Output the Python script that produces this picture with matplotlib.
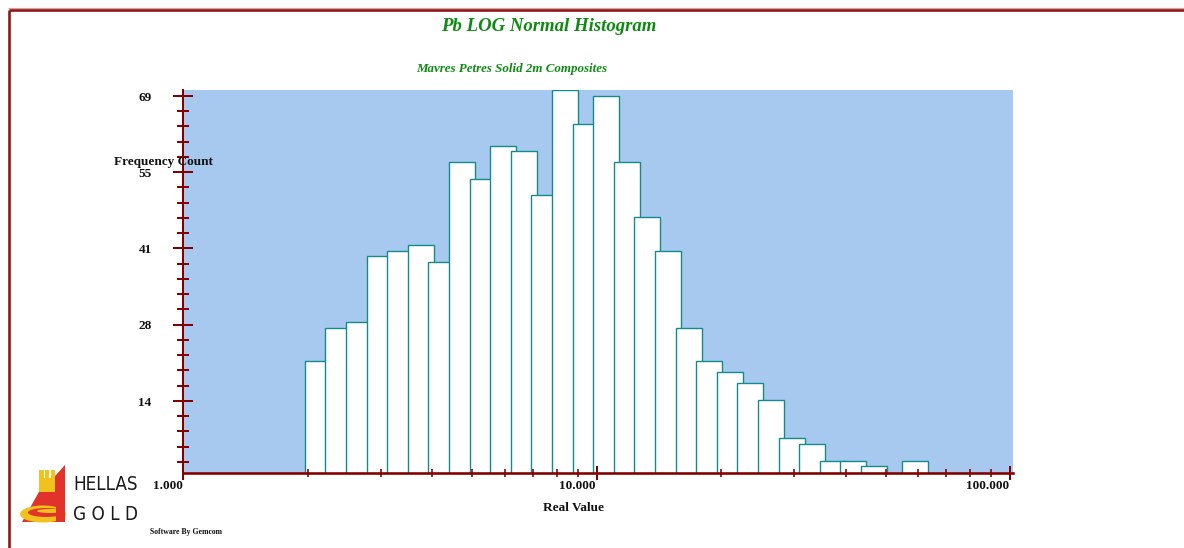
import matplotlib
matplotlib.use('Agg')
import matplotlib.pyplot as plt
import numpy as np
from matplotlib.patches import Polygon, Rectangle, Ellipse
from matplotlib.ticker import FixedLocator, NullFormatter

# ---------------- data ----------------
bin_lower = [1.966, 2.205, 2.473, 2.774, 3.111, 3.490, 3.914, 4.390, 4.924, 5.524,
             6.194, 6.949, 7.794, 8.743, 9.804, 10.998, 12.334, 13.836, 15.515, 17.405,
             19.521, 21.897, 24.556, 27.546, 30.895, 34.656, 38.868, 43.601, 48.901, 54.855]
counts = [21, 27, 28, 40, 41, 42, 39, 57, 54, 60,
          59, 51, 70, 64, 69, 57, 47, 41, 27, 21,
          19, 17, 14, 7, 6, 3, 3, 2, 0, 3]
y_tick_values = [13.8, 27.6, 41.4, 55.2, 69.0]
y_tick_labels = ['14', '28', '41', '55', '69']
x_tick_values = [1, 10, 100]
x_tick_labels = ['1.000', '10.000', '100.000']

title = 'Pb LOG Normal Histogram'
subtitle = 'Mavres Petres Solid 2m Composites'
ylabel = 'Frequency Count'
xlabel = 'Real Value'
footer = 'Software By Gemcom'

# ---------------- style ----------------
W, H = 1184, 548
PX = 0.72  # points per pixel at dpi 100
AXC = '#820000'
GREEN = '#0E8A12'
SERIF = ['Liberation Serif', 'DejaVu Serif']
bar_width_decades = 0.063

fig = plt.figure(figsize=(W / 100, H / 100), dpi=100)
fig.patch.set_facecolor('white')

def fx(x):
    return x / W

def fy(y):
    return 1 - y / H

ax_left, ax_right, ax_top, ax_bottom = 183.4, 1012.7, 90.0, 472.7
ax = fig.add_axes([fx(ax_left), fy(ax_bottom), (ax_right - ax_left) / W, (ax_bottom - ax_top) / H])
ax.set_facecolor('#A7C8EF')
ax.set_xscale('log')
ax.set_xlim(1, 101.5)
ax.set_ylim(0.8, 70.08)

lefts = np.array(bin_lower)
widths = lefts * (10 ** bar_width_decades - 1)
for l, w, c in zip(lefts, widths, counts):
    if c > 0:
        ax.bar(l, c, width=w, align='edge', facecolor='white', edgecolor='#138B8B',
               linewidth=1.0, zorder=1)

for s in ['top', 'right']:
    ax.spines[s].set_visible(False)
ax.spines['left'].set_color(AXC)
ax.spines['left'].set_linewidth(2 * PX)
ax.spines['bottom'].set_color(AXC)
ax.spines['bottom'].set_linewidth(2.6 * PX)

# x ticks
ax.xaxis.set_major_locator(FixedLocator(x_tick_values))
ax.xaxis.set_minor_locator(FixedLocator([m * d for d in (1, 10) for m in range(2, 10)]))
ax.xaxis.set_major_formatter(NullFormatter())
ax.xaxis.set_minor_formatter(NullFormatter())
ax.tick_params(axis='x', which='major', direction='inout', length=14 * PX, width=2 * PX, color=AXC)
ax.tick_params(axis='x', which='minor', direction='inout', length=7.5 * PX, width=1.6 * PX, color=AXC)

# y ticks
ax.yaxis.set_major_locator(FixedLocator(y_tick_values))
step = y_tick_values[0] / 5
minor_y = [step * k for k in range(1, 26) if k % 5 != 0]
ax.yaxis.set_minor_locator(FixedLocator(minor_y))
ax.yaxis.set_major_formatter(NullFormatter())
ax.yaxis.set_minor_formatter(NullFormatter())
ax.tick_params(axis='y', which='major', direction='inout', length=20 * PX, width=2 * PX, color=AXC)
ax.tick_params(axis='y', which='minor', direction='inout', length=12 * PX, width=2 * PX, color=AXC)

for v, lab in zip(y_tick_values, y_tick_labels):
    ax.annotate(lab, xy=(0, v), xycoords=('axes fraction', 'data'),
                xytext=(-31.7 * PX, -4.7 * PX), textcoords='offset points',
                ha='right', va='baseline', fontsize=9.5, fontweight='bold',
                family=SERIF, color='#111111', annotation_clip=False)
for v, lab in zip(x_tick_values, x_tick_labels):
    ax.annotate(lab, xy=(v, 0), xycoords=('data', 'axes fraction'),
                xytext=(-1.0 * PX, -16.6 * PX), textcoords='offset points',
                ha='right', va='baseline', fontsize=9.5, fontweight='bold',
                family=SERIF, color='#111111', annotation_clip=False)

# ---------------- overlay (pixel coords) ----------------
ov = fig.add_axes([0, 0, 1, 1], zorder=5)
ov.set_xlim(0, W)
ov.set_ylim(H, 0)
ov.axis('off')
ov.patch.set_visible(False)

# frame lines
ov.plot([8, W], [7.8, 7.8], color='#D8A0A0', lw=1.2 * PX, solid_capstyle='butt')
ov.plot([9, W], [10, 10], color='#8B1414', lw=2.6 * PX, solid_capstyle='butt')
ov.plot([9, 9], [10, H], color='#8B1414', lw=2.6 * PX, solid_capstyle='butt')

# texts
ov.text(548.5, 31, title, ha='center', va='baseline', fontsize=13.5, fontweight='bold',
        fontstyle='italic', family=SERIF, color=GREEN)
ov.text(512, 72, subtitle, ha='center', va='baseline', fontsize=9.4, fontweight='bold',
        fontstyle='italic', family=SERIF, color=GREEN)
ov.text(163.7, 165.5, ylabel, ha='center', va='baseline', fontsize=9.5, fontweight='bold',
        family=SERIF, color='#111111')
ov.text(573.8, 510.7, xlabel, ha='center', va='baseline', fontsize=9.5, fontweight='bold',
        family=SERIF, color='#111111')
ov.text(150, 533.5, footer, ha='left', va='baseline', fontsize=5.6, fontweight='bold',
        family=SERIF, color='#111111')

# logo
ov.add_patch(Polygon([(65, 465), (65, 522), (22, 522), (40, 490), (56, 475)],
                     closed=True, facecolor='#E1332C', edgecolor='none'))
ov.add_patch(Rectangle((39.3, 477.5), 15.7, 14.5, facecolor='#F1C21B', edgecolor='none'))
for x0 in (39.3, 45.0, 50.8):
    ov.add_patch(Rectangle((x0, 470), 4.2, 8, facecolor='#F1C21B', edgecolor='none'))
ov.add_patch(Ellipse((43, 514), 46, 17, facecolor='#F1C21B', edgecolor='none'))
ov.add_patch(Ellipse((46, 512.5), 36, 9, facecolor='#E1332C', edgecolor='none'))
ov.add_patch(Ellipse((50, 511), 26, 4, facecolor='#F1C21B', edgecolor='none'))
ov.add_patch(Rectangle((56, 505), 9, 17, facecolor='#E1332C', edgecolor='none'))

LOGO_FONT = ['Liberation Sans Narrow', 'DejaVu Sans']
ov.text(73.3, 489.5, 'HELLAS', ha='left', va='baseline', fontsize=13.5, fontstretch='condensed',
        family=LOGO_FONT, color='#1A1A1A')
ov.text(73.3, 520, 'G O L D', ha='left', va='baseline', fontsize=13.5, fontstretch='condensed',
        family=LOGO_FONT, color='#1A1A1A')

fig.savefig('out.png', dpi=100)
